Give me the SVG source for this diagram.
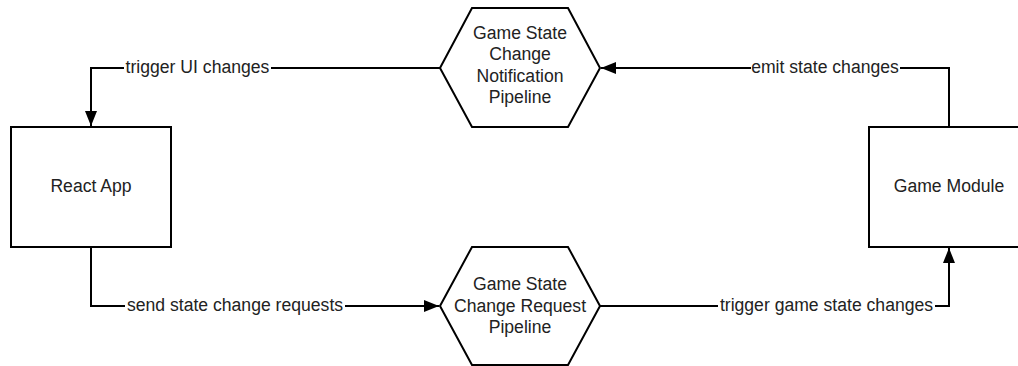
<svg xmlns="http://www.w3.org/2000/svg" width="1018" height="366" viewBox="0 0 1018 366">
  <style>
    .shape { fill: #ffffff; stroke: #000000; stroke-width: 2; }
    .conn { fill: none; stroke: #000000; stroke-width: 2; }
    .t { font-family: "Liberation Sans", Arial, sans-serif; font-size: 17.6px; fill: #222222; text-anchor: middle; }
    .bg { fill: #ffffff; }
  </style>
  <defs>
    <marker id="arrow" markerUnits="userSpaceOnUse" markerWidth="16" markerHeight="12" refX="15" refY="6" orient="auto">
      <path d="M0,0 L15,6 L0,12 z" fill="#000000"/>
    </marker>
  </defs>
  <rect width="1018" height="366" fill="#ffffff"/>

  <g id="connectors">
    <path class="conn" d="M440,68 L91,68 L91,126" marker-end="url(#arrow)"/>
    <path class="conn" d="M949,127 L949,68 L601,68" marker-end="url(#arrow)"/>
    <path class="conn" d="M91,247 L91,306 L439,306" marker-end="url(#arrow)"/>
    <path class="conn" d="M600,306 L949,306 L949,248" marker-end="url(#arrow)"/>
    <rect class="bg" x="124" y="58" width="147" height="20"/>
    <text class="t" x="197.5" y="72.5">trigger UI changes</text>
    <rect class="bg" x="751" y="58" width="149" height="20"/>
    <text class="t" x="825" y="72.5">emit state changes</text>
    <rect class="bg" x="125" y="296" width="220" height="20"/>
    <text class="t" x="235" y="310.5">send state change requests</text>
    <rect class="bg" x="718" y="296" width="217" height="20"/>
    <text class="t" x="826.5" y="310.5">trigger game state changes</text>
  </g>

  <g id="react-app">
    <rect class="shape" x="11" y="127" width="160" height="120"/>
    <text class="t" x="91" y="192">React App</text>
  </g>

  <g id="game-module">
    <rect class="shape" x="869" y="127" width="160" height="120"/>
    <text class="t" x="949" y="192">Game Module</text>
  </g>

  <g id="notification-pipeline">
    <polygon class="shape" points="440,68 472,8 568,8 600,68 568,127 472,127"/>
    <text class="t" x="520" y="38.5">Game State</text>
    <text class="t" x="520" y="60">Change</text>
    <text class="t" x="520" y="81.5">Notification</text>
    <text class="t" x="520" y="103">Pipeline</text>
  </g>

  <g id="request-pipeline">
    <polygon class="shape" points="440,306 472,247 568,247 600,306 568,365 472,365"/>
    <text class="t" x="520" y="290">Game State</text>
    <text class="t" x="520" y="311.5">Change Request</text>
    <text class="t" x="520" y="333">Pipeline</text>
  </g>
</svg>
